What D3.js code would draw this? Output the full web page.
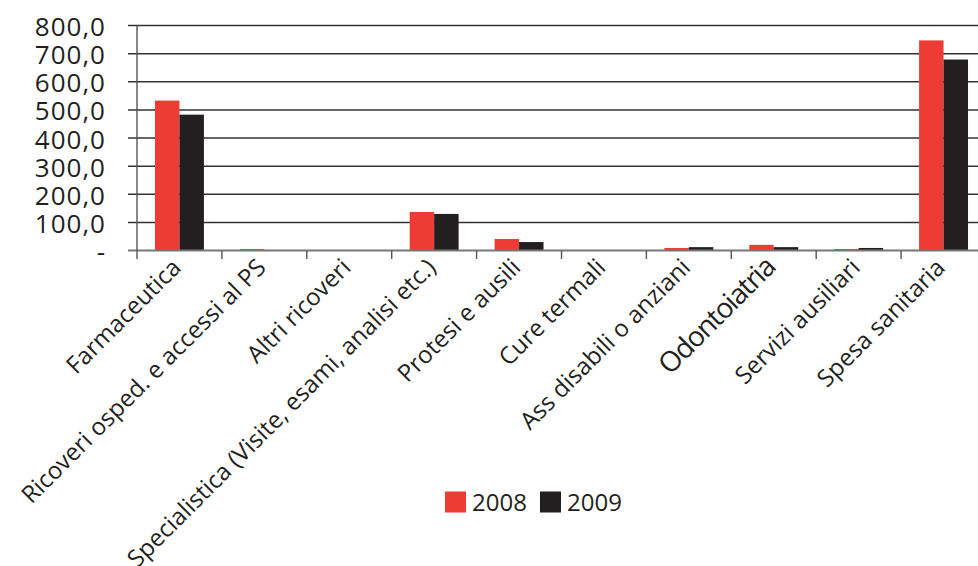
<!DOCTYPE html>
<html>
<head>
<meta charset="utf-8">
<script src="https://cdn.jsdelivr.net/npm/d3@7"></script>
<style>
  html, body { margin: 0; padding: 0; background: #fff; }
  svg { display: block; }
  text { font-family: "Open Sans", "Noto Sans", sans-serif; fill: #231f20; }
</style>
</head>
<body>
<svg id="chart" width="978" height="566"></svg>
<script>
// Categorie di spesa
const categories = [
  "Farmaceutica",
  "Ricoveri osped. e accessi al PS",
  "Altri ricoveri",
  "Specialistica (Visite, esami, analisi etc.)",
  "Protesi e ausili",
  "Cure termali",
  "Ass disabili o anziani",
  "Odontoiatria",
  "Servizi ausiliari",
  "Spesa sanitaria"
];
const years = ["2008", "2009"];
const values2008 = [533, 5, 0, 137, 41, 0, 9, 20, 5, 747];
const values2009 = [483, 1, 0, 130, 30, 0, 12, 12, 9, 679];
const yTicks = [0, 100, 200, 300, 400, 500, 600, 700, 800];
const colors = { "2008": "#ee3b33", "2009": "#231f20" };

const svg = d3.select("#chart");
const fmt = v => v === 0 ? "-" : d3.format(".1f")(v).replace(".", ",");

const x0 = d3.scaleBand().domain(categories).range([137, 986]).paddingInner(0).paddingOuter(0);
const x1 = d3.scaleBand().domain(years).range([0, x0.bandwidth()]).paddingInner(0).paddingOuter(0.735);
const y = d3.scaleLinear().domain([0, 800]).range([250.5, 25.5]);

// Griglia orizzontale
svg.append("g")
  .selectAll("line")
  .data(yTicks.filter(t => t > 0))
  .join("line")
  .attr("x1", 128).attr("x2", 978)
  .attr("y1", d => y(d)).attr("y2", d => y(d))
  .attr("stroke", "#333").attr("stroke-width", 1.5);

// Etichette asse Y
svg.append("g")
  .selectAll("text")
  .data(yTicks)
  .join("text")
  .attr("x", 106)
  .attr("y", d => y(d) + 10.5)
  .attr("text-anchor", "end")
  .attr("font-size", 26)
  .attr("letter-spacing", 1)
  .text(fmt);

// Barre
const data = categories.map((c, i) => ({ c, v: { "2008": values2008[i], "2009": values2009[i] } }));
svg.append("g")
  .selectAll("g")
  .data(data)
  .join("g")
  .attr("transform", d => `translate(${x0(d.c)},0)`)
  .selectAll("rect")
  .data(d => years.map(k => ({ k, v: d.v[k] })))
  .join("rect")
  .attr("x", d => x1(d.k))
  .attr("width", x1.bandwidth())
  .attr("y", d => y(d.v))
  .attr("height", d => y(0) - y(d.v))
  .attr("fill", d => colors[d.k]);

// Asse X e separatori
svg.append("line")
  .attr("x1", 128).attr("x2", 978)
  .attr("y1", y(0)).attr("y2", y(0))
  .attr("stroke", "#777").attr("stroke-width", 2);
svg.append("line")
  .attr("x1", 137).attr("x2", 137)
  .attr("y1", y(800)).attr("y2", 259)
  .attr("stroke", "#555").attr("stroke-width", 1.4);
svg.append("g")
  .selectAll("line")
  .data(categories.slice(1))
  .join("line")
  .attr("x1", d => x0(d)).attr("x2", d => x0(d))
  .attr("y1", y(0)).attr("y2", 259)
  .attr("stroke", "#555").attr("stroke-width", 1.4);

// Etichette categorie ruotate
svg.append("g")
  .selectAll("text")
  .data(categories)
  .join("text")
  .attr("text-anchor", "end")
  .attr("font-size", d => d === "Odontoiatria" ? 28 : 24)
  .attr("letter-spacing", d => d === "Odontoiatria" ? -1.3 : 0)
  .attr("transform", d => `translate(${x0(d) + x0.bandwidth() / 2 + 3},${269}) rotate(-45)`)
  .text(d => d);

// Legenda
const legend = svg.append("g");
const lx = [445, 540];
years.forEach((k, i) => {
  legend.append("rect")
    .attr("x", lx[i]).attr("y", 491.5)
    .attr("width", 21).attr("height", 21)
    .attr("fill", colors[k]);
  legend.append("text")
    .attr("x", lx[i] + 27).attr("y", 511)
    .attr("font-size", 24)
    .text(k);
});
</script>
</body>
</html>
